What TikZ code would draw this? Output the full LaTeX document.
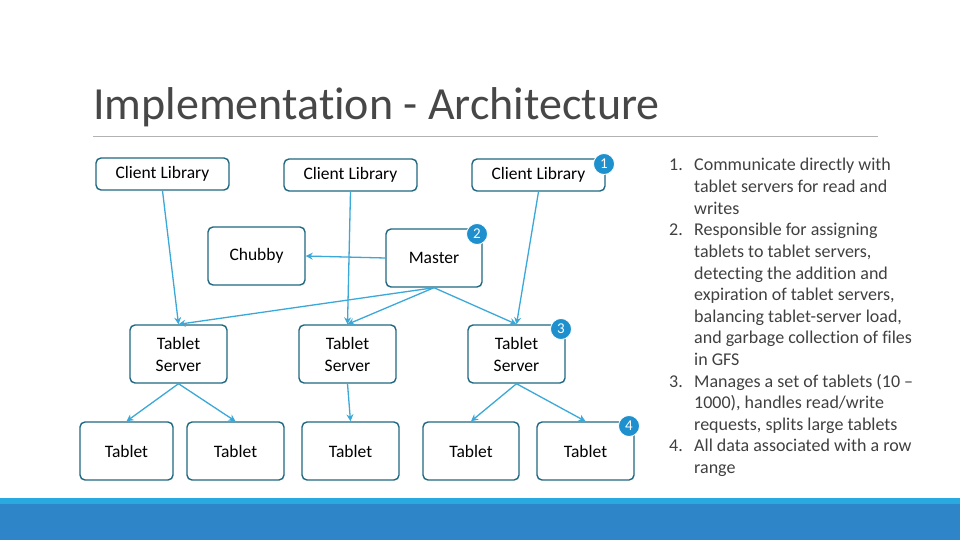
\documentclass[tikz,border=0pt]{standalone}
\usepackage{fontspec}
\setmainfont{Carlito}[Ligatures=NoCommon]
\usetikzlibrary{arrows.meta}
\definecolor{boxline}{RGB}{31,104,128}
\definecolor{linkblue}{RGB}{58,168,216}
\definecolor{badge}{RGB}{30,144,205}
\definecolor{barblue}{RGB}{46,134,200}
\definecolor{barlight}{RGB}{40,170,225}
\definecolor{bodytext}{RGB}{64,64,64}
\tikzset{
  box/.style={draw=boxline, line width=1.4pt, rounded corners=5pt, align=center,
    inner sep=0pt, font=\fontsize{17.5}{22}\selectfont},
  link/.style={draw=linkblue, line width=1.3pt, -{Stealth[length=7pt,width=7pt]}},
  badgenode/.style={circle, fill=badge, draw=white, line width=0.8pt, minimum size=21pt,
    inner sep=0pt, text=white, font=\fontsize{15}{15}\selectfont},
  note/.style={anchor=base west, inner sep=0pt, text=bodytext, font=\fontsize{18}{18}\selectfont}
}
\begin{document}
\begin{tikzpicture}[x=1pt,y=1pt,yscale=-1]
\useasboundingbox (0,0) rectangle (960,540);

%Title
\node (title) [anchor=west, inner sep=0pt, text=black!72, font=\fontsize{46}{46}\selectfont] at (93,107) {Implementation - Architecture};
\draw [black!30, line width=0.8pt] (93,136) -- (878,136);

%Bottom bar
\fill [barlight] (0,498) rectangle (960,504);
\fill [barblue] (0,504) rectangle (960,540);

%Clients
\node (cl1) [box, minimum width=133pt, minimum height=32pt] at (162.5,174) {Client Library};
\node (cl2) [box, minimum width=133pt, minimum height=32pt] at (350.5,175) {Client Library};
\node (cl3) [box, minimum width=133pt, minimum height=32pt] at (538.5,175) {Client Library};

%Chubby and master
\node (chubby) [box, minimum width=97pt, minimum height=58pt] at (256.5,256) {Chubby};
\node (master) [box, minimum width=96pt, minimum height=58pt] at (434,258) {Master};

%Tablet servers
\node (ts1) [box, minimum width=97pt, minimum height=58pt] at (178.5,354) {Tablet\\Server};
\node (ts2) [box, minimum width=97pt, minimum height=58pt] at (347.5,354) {Tablet\\Server};
\node (ts3) [box, minimum width=97pt, minimum height=58pt] at (516.5,354) {Tablet\\Server};

%Tablets
\node (t1) [box, minimum width=93pt, minimum height=58pt] at (126.5,451) {Tablet};
\node (t2) [box, minimum width=97pt, minimum height=58pt] at (235.5,451) {Tablet};
\node (t3) [box, minimum width=97pt, minimum height=58pt] at (350.5,451) {Tablet};
\node (t4) [box, minimum width=96pt, minimum height=58pt] at (471,451) {Tablet};
\node (t5) [box, minimum width=97pt, minimum height=58pt] at (585.5,451) {Tablet};

%Links
\draw [link] (cl1.south) -- (ts1.north);
\draw [link] (cl2.south) -- (ts2.north);
\draw [link] (cl3.south) -- (ts3.north);
\draw [link] (master.west) -- (chubby.east);
\draw [link] (master.south) -- (ts1.north);
\draw [link] (master.south) -- (ts2.north);
\draw [link] (master.south) -- (ts3.north);
\draw [link] (ts1.south) -- (t1.north);
\draw [link] (ts1.south) -- (t2.north);
\draw [link] (ts2.south) -- (t3.north);
\draw [link] (ts3.south) -- (t4.north);
\draw [link] (ts3.south) -- (t5.north);

%Badges
\node (b1) [badgenode] at (604,164) {1};
\node (b2) [badgenode] at (477,234) {2};
\node (b3) [badgenode] at (561,329) {3};
\node (b4) [badgenode] at (629,426) {4};

%Notes
\foreach \n/\i in {1/0, 2/3, 3/10, 4/13}
  \node [note, anchor=base east] at (683,171+21.6*\i) {\n.};
\foreach \t [count=\i from 0] in {{Communicate directly with}, {tablet servers for read and}, {writes},
  {Responsible for assigning}, {tablets to tablet servers,}, {detecting the addition and},
  {expiration of tablet servers,}, {balancing tablet-server load,}, {and garbage collection of files},
  {in GFS}, {Manages a set of tablets (10 –}, {1000), handles read/write}, {requests, splits large tablets},
  {All data associated with a row}, {range}}
  \node [note] at (694,171+21.6*\i) {\t};
\end{tikzpicture}
\end{document}
